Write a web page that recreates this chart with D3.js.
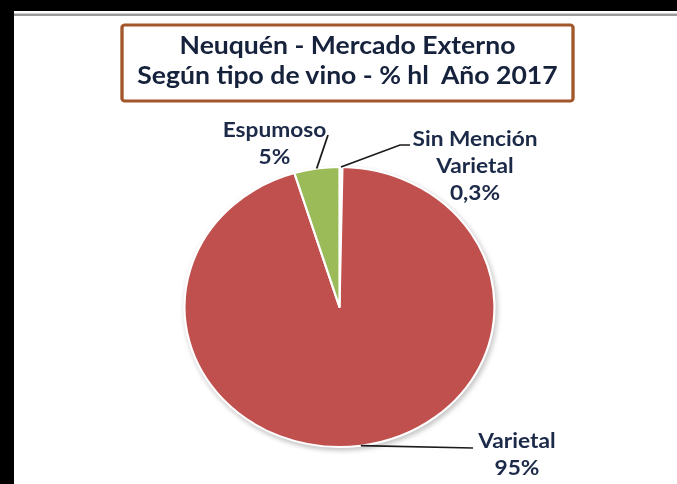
<!DOCTYPE html>
<html>
<head>
<meta charset="utf-8">
<script src="https://cdn.jsdelivr.net/npm/d3@7"></script>
<style>
  html, body { margin: 0; padding: 0; background: #fff; }
  svg { display: block; }
  text { font-family: Lato, "Open Sans", sans-serif; font-weight: bold; white-space: pre; }
</style>
</head>
<body>
<script>
// Exportaciones de Neuquén por tipo de vino, % de hectolitros, 2017
const categories = ["Sin Mención Varietal", "Varietal", "Espumoso"];
const shares = [0.3, 95.0, 4.7];
const shareLabels = ["0,3%", "95%", "5%"];
const labelLines = [["Sin Mención", "Varietal", "0,3%"], ["Varietal", "95%"], ["Espumoso", "5%"]];
const titleLines = ["Neuquén - Mercado Externo", "Según tipo de vino - % hl  Año 2017"];

const W = 677, H = 484;
const SX = 1.107;               // the chart is drawn horizontally stretched
const X = v => v / SX;          // screen x -> x inside the stretched group

const colors = d3.scaleOrdinal()
  .domain(categories)
  .range(["#f3e4e4", "#c0504d", "#9bbb59"]);

const svg = d3.select("body").append("svg")
  .attr("width", W).attr("height", H);

svg.append("rect").attr("width", W).attr("height", H).attr("fill", "#fff");

// page frame: dark bands on top and left, grey rule below the top band
svg.append("rect").attr("x", 0).attr("y", 0).attr("width", W).attr("height", 11).attr("fill", "#000");
svg.append("rect").attr("x", 0).attr("y", 0).attr("width", 14).attr("height", H).attr("fill", "#000");
svg.append("rect").attr("x", 14).attr("y", 13.5).attr("width", W - 14).attr("height", 2.5).attr("fill", "#9a9a9a");

const defs = svg.append("defs");
defs.append("filter").attr("id", "soft").attr("x", "-20%").attr("y", "-20%").attr("width", "140%").attr("height", "140%")
  .append("feGaussianBlur").attr("stdDeviation", 2.2);
defs.append("filter").attr("id", "blur1")
  .append("feGaussianBlur").attr("stdDeviation", 0.45);

const g = svg.append("g").attr("transform", `scale(${SX},1)`);

// title box
const box = { x0: 122, x1: 573, y0: 25, y1: 101 };
g.append("rect")
  .attr("x", X(box.x0)).attr("y", box.y0)
  .attr("width", X(box.x1) - X(box.x0)).attr("height", box.y1 - box.y0)
  .attr("rx", 2.5)
  .attr("fill", "#fff").attr("stroke", "#a2572a").attr("stroke-width", 3);

g.append("g").attr("filter", "url(#blur1)")
  .selectAll("text").data(titleLines).join("text")
  .attr("x", X(347.5))
  .attr("y", (d, i) => 54 + i * 30.5)
  .attr("text-anchor", "middle")
  .attr("font-size", 24)
  .attr("fill", "#14203a")
  .text(d => d);

// pie
const cx = X(339.5), cy = 307, R = 140;

const pie = d3.pie().sort(null).value(d => d);
const arcs = pie(shares);
const arc = d3.arc().innerRadius(0).outerRadius(R);

const pieG = g.append("g").attr("transform", `translate(${cx},${cy})`);

pieG.append("circle")
  .attr("cx", 1.5).attr("cy", 2.5).attr("r", R + 1.5)
  .attr("fill", "#9a9a9a").attr("opacity", 0.55)
  .attr("filter", "url(#soft)");

pieG.selectAll("path.slice").data(arcs).join("path")
  .attr("class", "slice")
  .attr("d", arc)
  .attr("fill", (d, i) => colors(categories[i]))
  .attr("stroke", "#fff")
  .attr("stroke-width", 2)
  .attr("stroke-linejoin", "round");

// label layout (screen px): text anchor point and leader path end points
const labelLayout = [
  { x: 475, y: 146.5, bend: [[400, 145], [410, 145]] },
  { x: 517, y: 448,   bend: [[473, 448]] },
  { x: 274.5, y: 137.5, bend: [[328, 135]] }
];

// point on the pie rim at a slice's middle angle, in screen px
function rimPoint(d) {
  const a = (d.startAngle + d.endAngle) / 2;
  return [(cx + R * Math.sin(a)) * SX, cy - R * Math.cos(a)];
}

const leader = d3.line();
const lab = g.append("g");
arcs.forEach((d, i) => {
  const L = labelLayout[i];
  const pts = [rimPoint(d), ...L.bend].map(p => [X(p[0]), p[1]]);
  lab.append("path")
    .attr("d", leader(pts))
    .attr("fill", "none")
    .attr("stroke", "#1b1b1b")
    .attr("stroke-width", 1.6);
});

const labelText = lab.append("g").attr("filter", "url(#blur1)");
arcs.forEach((d, i) => {
  const L = labelLayout[i];
  labelText.selectAll(null).data(labelLines[i]).join("text")
    .attr("x", X(L.x))
    .attr("y", (t, j) => L.y + j * 26.7)
    .attr("text-anchor", "middle")
    .attr("font-size", 20.5)
    .attr("fill", "#1d2a48")
    .text(t => t);
});
</script>
</body>
</html>
